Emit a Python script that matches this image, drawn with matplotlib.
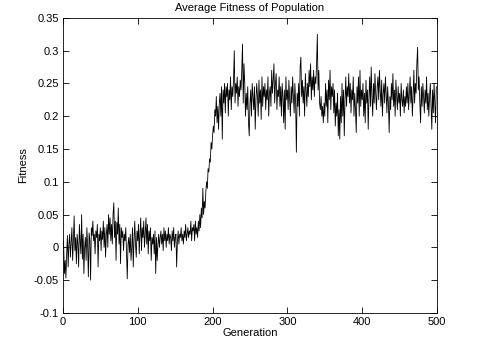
import matplotlib
matplotlib.use("Agg")
import matplotlib.pyplot as plt
import numpy as np

# average fitness per generation
fitness = [
    0.012, 0.002, -0.04, -0.02, -0.047, -0.01, 0.018, -0.03, 0.005, 0.02,
    -0.015, 0.008, 0.03, -0.02, 0.01, 0.048, -0.005, 0.015, -0.025, 0.02,
    0.005, -0.03, 0.035, 0.01, -0.01, 0.05, -0.018, 0.02, -0.04, 0.0,
    0.015, -0.02, 0.03, 0.002, -0.045, 0.022, 0.01, -0.05, 0.03, 0.018,
    0.04, 0.01, 0.02, -0.01, 0.025, 0.015, 0.035, -0.03, 0.02, 0.01,
    0.03, -0.005, 0.025, 0.012, 0.04, 0.0, 0.03, -0.015, 0.02, 0.035,
    0.0, 0.05, 0.02, 0.045, 0.01, 0.035, 0.005, 0.05, 0.068, 0.015,
    0.04, -0.02, 0.038, 0.02, 0.06, 0.005, 0.035, -0.025, 0.03, 0.015,
    0.025, -0.005, 0.02, 0.01, 0.03, -0.01, -0.048, 0.005, 0.015, -0.008,
    0.02, -0.02, 0.0, 0.03, -0.03, 0.01, 0.04, 0.005, -0.015, 0.025,
    0.01, 0.035, -0.01, 0.02, 0.045, -0.005, 0.03, 0.015, 0.04, 0.0,
    0.02, 0.045, 0.005, 0.035, -0.01, 0.025, 0.01, 0.03, -0.02, 0.015,
    0.005, 0.02, -0.01, 0.025, -0.04, 0.015, -0.02, 0.005, 0.02, 0.0,
    0.015, 0.025, 0.005, 0.02, -0.005, 0.03, 0.01, 0.025, 0.0, 0.02,
    0.01, 0.03, 0.005, 0.02, 0.015, -0.005, 0.025, 0.01, 0.03, 0.0,
    0.015, 0.02, -0.03, 0.01, 0.025, 0.005, 0.02, 0.015, 0.03, 0.01,
    0.02, 0.005, 0.025, 0.015, 0.035, 0.01, 0.02, 0.03, 0.015, 0.025,
    0.02, 0.04, 0.01, 0.03, 0.025, 0.035, 0.01, 0.04, 0.02, 0.03,
    0.015, 0.04, 0.025, 0.05, 0.03, 0.06, 0.045, 0.09, 0.05, 0.07,
    0.06, 0.085, 0.1, 0.09, 0.12, 0.115, 0.135, 0.13, 0.16, 0.15,
    0.17, 0.185, 0.175, 0.21, 0.2, 0.23, 0.19, 0.215, 0.18, 0.22,
    0.235, 0.2, 0.245, 0.165, 0.24, 0.22, 0.25, 0.205, 0.245, 0.23,
    0.25, 0.2, 0.24, 0.225, 0.26, 0.21, 0.245, 0.23, 0.255, 0.3,
    0.22, 0.25, 0.235, 0.26, 0.215, 0.245, 0.23, 0.255, 0.24, 0.27,
    0.31, 0.22, 0.28, 0.25, 0.2, 0.235, 0.21, 0.245, 0.19, 0.17,
    0.22, 0.24, 0.2, 0.25, 0.23, 0.21, 0.245, 0.18, 0.225, 0.25,
    0.23, 0.2, 0.255, 0.22, 0.24, 0.195, 0.26, 0.215, 0.245, 0.23,
    0.25, 0.21, 0.24, 0.225, 0.26, 0.2, 0.235, 0.245, 0.215, 0.27,
    0.235, 0.255, 0.28, 0.22, 0.25, 0.265, 0.21, 0.24, 0.23, 0.26,
    0.215, 0.245, 0.2, 0.25, 0.23, 0.19, 0.24, 0.18, 0.26, 0.225,
    0.24, 0.21, 0.255, 0.225, 0.2, 0.245, 0.22, 0.26, 0.23, 0.205,
    0.25, 0.22, 0.145, 0.235, 0.215, 0.25, 0.2, 0.275, 0.29, 0.23,
    0.255, 0.22, 0.245, 0.2, 0.265, 0.24, 0.215, 0.25, 0.23, 0.27,
    0.245, 0.28, 0.225, 0.26, 0.24, 0.27, 0.23, 0.26, 0.25, 0.28,
    0.325, 0.24, 0.27, 0.22, 0.21, 0.23, 0.2, 0.215, 0.19, 0.22,
    0.2, 0.25, 0.215, 0.24, 0.19, 0.255, 0.225, 0.27, 0.21, 0.245,
    0.23, 0.25, 0.205, 0.24, 0.185, 0.22, 0.2, 0.235, 0.17, 0.21,
    0.165, 0.23, 0.19, 0.25, 0.2, 0.24, 0.17, 0.225, 0.26, 0.215,
    0.245, 0.23, 0.265, 0.22, 0.25, 0.205, 0.24, 0.225, 0.26, 0.2,
    0.235, 0.21, 0.175, 0.245, 0.22, 0.26, 0.2, 0.27, 0.215, 0.24,
    0.225, 0.25, 0.2, 0.235, 0.19, 0.255, 0.22, 0.24, 0.18, 0.23,
    0.26, 0.215, 0.275, 0.23, 0.2, 0.25, 0.22, 0.265, 0.235, 0.21,
    0.245, 0.26, 0.225, 0.27, 0.24, 0.215, 0.255, 0.2, 0.235, 0.25,
    0.22, 0.26, 0.235, 0.205, 0.245, 0.22, 0.175, 0.23, 0.21, 0.25,
    0.225, 0.265, 0.215, 0.24, 0.2, 0.255, 0.23, 0.21, 0.245, 0.22,
    0.235, 0.2, 0.25, 0.225, 0.215, 0.24, 0.205, 0.23, 0.215, 0.245,
    0.22, 0.25, 0.21, 0.235, 0.26, 0.22, 0.245, 0.2, 0.23, 0.27,
    0.22, 0.25, 0.235, 0.28, 0.305, 0.24, 0.26, 0.22, 0.19, 0.245,
    0.215, 0.25, 0.23, 0.205, 0.24, 0.22, 0.26, 0.21, 0.235, 0.2,
    0.23, 0.25, 0.215, 0.18, 0.24, 0.205, 0.25, 0.22, 0.19, 0.245,
]
generations = np.arange(len(fitness))

x_ticks = [0, 100, 200, 300, 400, 500]
y_ticks = [-0.1, -0.05, 0, 0.05, 0.1, 0.15, 0.2, 0.25, 0.3, 0.35]
y_labels = ["-0.1", "-0.05", "0", "0.05", "0.1", "0.15", "0.2", "0.25", "0.3", "0.35"]

plt.rcParams["font.family"] = ["Liberation Sans", "DejaVu Sans"]
plt.rcParams["font.size"] = 8

fig = plt.figure(figsize=(4.84, 3.5), dpi=100)
ax = fig.add_axes([0.13, 0.106, 0.773, 0.843])

ax.plot(generations, fitness, color="black", linewidth=0.6)

ax.set_xlim(0, 500)
ax.set_ylim(-0.1, 0.35)
ax.set_xticks(x_ticks)
ax.set_yticks(y_ticks)
ax.set_yticklabels(y_labels)
ax.tick_params(direction="in", top=True, right=True, length=4, width=0.6, pad=3)
for s in ax.spines.values():
    s.set_linewidth(0.6)

ax.set_title("Average Fitness of Population", fontsize=8, pad=5)
ax.set_xlabel("Generation", labelpad=1)
ax.set_ylabel("Fitness", labelpad=4)

fig.savefig("out.png", dpi=100)
